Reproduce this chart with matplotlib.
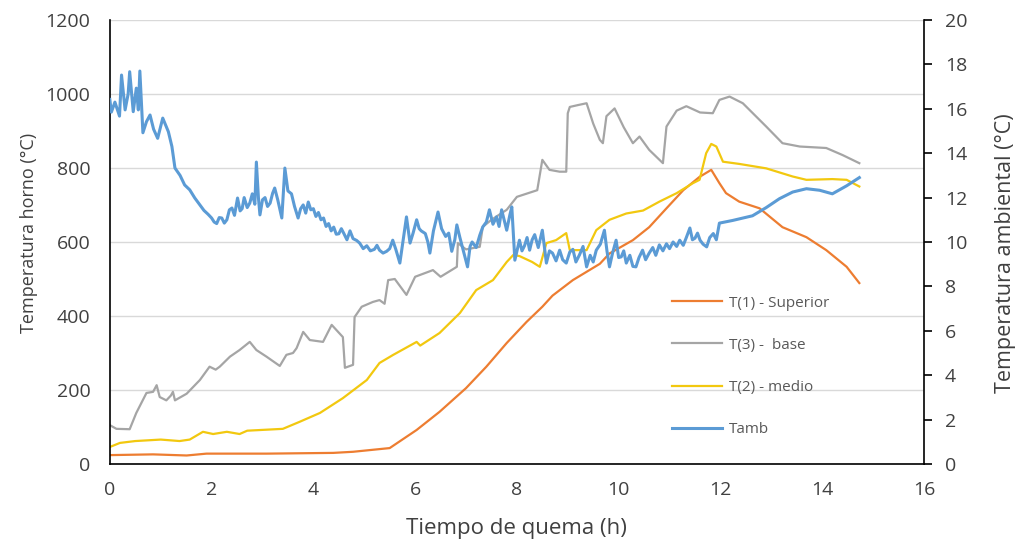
import matplotlib
matplotlib.use("Agg")
import matplotlib.pyplot as plt

plt.rcParams['font.family'] = ['Open Sans', 'DejaVu Sans']

# T(1) - Superior (eje izquierdo)
t1_x = [0.0, 0.85, 1.51, 1.9, 3.08, 4.39, 4.78, 5.5, 6.03, 6.48, 7.0, 7.4, 7.8, 8.19, 8.5, 8.7,
        9.1, 9.63, 9.82, 10.28, 10.6, 10.94, 11.27, 11.59, 11.82, 11.98, 12.11, 12.37, 12.77,
        13.22, 13.69, 14.08, 14.48, 14.73]
t1_y = [24, 26, 23, 28, 28, 30, 33, 43, 92, 141, 205, 263, 327, 384, 425, 455,
        497, 541, 569, 605, 640, 691, 740, 776, 795, 759, 732, 709, 691,
        640, 613, 578, 533, 489]

# T(3) - base
t3_x = [0.0, 0.13, 0.39, 0.52, 0.72, 0.85, 0.92, 0.98, 1.11, 1.2, 1.24, 1.28, 1.51, 1.77, 1.96,
        2.08, 2.16, 2.36, 2.55, 2.75, 2.88, 3.08, 3.34, 3.47, 3.6, 3.67, 3.8, 3.93, 4.19, 4.36,
        4.5, 4.58, 4.62, 4.78, 4.81, 4.95, 5.17, 5.3, 5.4, 5.47, 5.6, 5.83, 6.0, 6.35, 6.5,
        6.75, 6.82, 6.84, 7.0, 7.27, 7.33, 7.5, 7.8, 8.0, 8.4, 8.5, 8.64, 8.84, 8.97, 9.0,
        9.04, 9.2, 9.37, 9.5, 9.63, 9.69, 9.76, 9.92, 10.1, 10.28, 10.41, 10.6, 10.87, 10.94,
        11.14, 11.33, 11.6, 11.85, 11.98, 12.18, 12.44, 12.9, 13.22, 13.56, 14.08, 14.4, 14.73]
t3_y = [105, 95, 94, 138, 192, 195, 213, 181, 172, 185, 195, 172, 190, 227, 263,
        255, 263, 290, 308, 330, 308, 290, 265, 295, 300, 313, 357, 335, 330, 376,
        355, 343, 260, 268, 397, 425, 438, 443, 433, 497, 500, 457, 506, 524, 506,
        527, 533, 597, 580, 587, 641, 660, 687, 722, 740, 822, 795, 790, 790, 948,
        965, 970, 975, 920, 876, 867, 940, 961, 910, 867, 885, 849, 813, 912,
        955, 967, 950, 948, 984, 993, 975, 912, 867, 858, 854, 835, 813]

# T(2) - medio
t2_x = [0.0, 0.2, 0.5, 1.0, 1.37, 1.57, 1.83, 2.03, 2.3, 2.55, 2.7, 3.4, 3.73, 4.13, 4.58,
        5.05, 5.3, 5.57, 6.03, 6.1, 6.48, 6.88, 7.2, 7.53, 7.8, 7.93, 8.05, 8.3, 8.45, 8.58,
        8.77, 8.97, 9.04, 9.37, 9.56, 9.82, 10.15, 10.48, 10.8, 11.14, 11.46, 11.59, 11.72,
        11.82, 11.92, 12.05, 12.37, 12.9, 13.42, 13.69, 14.2, 14.48, 14.73]
t2_y = [46, 57, 62, 66, 62, 66, 87, 81, 87, 81, 90, 95, 114, 138, 178,
        227, 273, 295, 330, 320, 354, 408, 470, 497, 546, 565, 562, 546, 533, 597,
        605, 624, 578, 578, 632, 660, 677, 685, 709, 732, 759, 768, 840,
        865, 858, 817, 811, 799, 777, 768, 770, 768, 750]

# Tamb (eje derecho)
tamb_x = [0.0, 0.03, 0.1, 0.19, 0.23, 0.3, 0.36, 0.39, 0.46, 0.52, 0.56, 0.59, 0.65, 0.72,
          0.79, 0.86, 0.94, 1.04, 1.15, 1.22, 1.28, 1.38, 1.47, 1.57, 1.67, 1.76, 1.85, 1.93,
          2.0, 2.05, 2.1, 2.15, 2.2, 2.25, 2.3, 2.35, 2.4, 2.45, 2.51, 2.56, 2.6, 2.64, 2.7,
          2.75, 2.8, 2.85, 2.88, 2.92, 2.95, 3.0, 3.05, 3.1, 3.15, 3.2, 3.24, 3.3, 3.38, 3.44,
          3.5, 3.57, 3.63, 3.7, 3.75, 3.8, 3.85, 3.9, 3.95, 4.0, 4.05, 4.1, 4.15, 4.2, 4.25,
          4.3, 4.35, 4.4, 4.45, 4.5, 4.55, 4.6, 4.66, 4.72, 4.78, 4.85, 4.91, 4.98, 5.05, 5.12,
          5.2, 5.25, 5.3, 5.37, 5.44, 5.5, 5.56, 5.62, 5.7, 5.76, 5.83, 5.9, 5.96, 6.03, 6.08,
          6.12, 6.2, 6.25, 6.29, 6.36, 6.45, 6.52, 6.6, 6.66, 6.72, 6.78, 6.82, 6.88, 6.94,
          7.03, 7.08, 7.12, 7.2, 7.27, 7.33, 7.4, 7.46, 7.53, 7.6, 7.65, 7.7, 7.75, 7.8, 7.86,
          7.9, 7.96, 8.05, 8.1, 8.15, 8.2, 8.25, 8.3, 8.35, 8.42, 8.5, 8.58, 8.64, 8.7, 8.77,
          8.84, 8.9, 8.97, 9.04, 9.1, 9.16, 9.23, 9.3, 9.37, 9.44, 9.5, 9.56, 9.64, 9.72, 9.77,
          9.82, 9.88, 9.95, 10.0, 10.05, 10.1, 10.15, 10.22, 10.28, 10.34, 10.4, 10.47, 10.53,
          10.6, 10.67, 10.73, 10.8, 10.87, 10.94, 11.0, 11.07, 11.14, 11.2, 11.27, 11.33, 11.4,
          11.45, 11.5, 11.55, 11.6, 11.66, 11.73, 11.79, 11.86, 11.92, 11.98, 12.24, 12.63,
          12.9, 13.16, 13.42, 13.69, 13.95, 14.2, 14.48, 14.73]
tamb_y = [16.42, 15.85, 16.3, 15.67, 17.52, 15.95, 16.67, 17.67, 15.87, 16.93, 15.95, 17.7, 14.92, 15.42,
          15.72, 15.08, 14.67, 15.58, 14.97, 14.3, 13.33, 13.0, 12.57, 12.35, 11.98, 11.7, 11.42, 11.25,
          11.08, 10.9, 10.83, 11.1, 11.08, 10.85, 11.0, 11.45, 11.53, 11.2, 11.98, 11.4, 11.5, 12.0, 11.55,
          11.75, 12.17, 11.7, 13.6, 12.0, 11.22, 11.9, 12.0, 11.6, 11.75, 12.2, 12.43, 11.9, 11.08, 13.33,
          12.3, 12.17, 11.6, 11.08, 11.5, 11.67, 11.3, 11.8, 11.45, 11.5, 11.15, 11.33, 11.0, 11.08, 10.7,
          10.83, 10.5, 10.67, 10.35, 10.37, 10.6, 10.38, 10.1, 10.5, 10.15, 10.07, 9.95, 9.7, 9.83, 9.6,
          9.67, 9.85, 9.63, 9.5, 9.58, 9.7, 10.08, 9.67, 9.05, 10.0, 11.13, 9.95, 10.4, 11.0, 10.6,
          10.5, 10.38, 10.0, 9.5, 10.5, 11.35, 10.6, 10.25, 10.4, 9.58, 10.1, 10.77, 10.2, 9.67,
          8.88, 9.8, 10.0, 9.75, 10.3, 10.68, 10.9, 11.45, 10.8, 11.13, 10.7, 11.45, 11.0, 10.53, 11.2,
          11.58, 9.18, 10.08, 9.6, 9.83, 10.2, 9.63, 10.1, 10.33, 9.75, 10.53, 9.05, 9.6, 9.5, 9.15,
          9.63, 9.2, 9.05, 9.55, 9.67, 9.1, 9.42, 9.8, 8.88, 9.4, 9.1, 9.63, 9.9, 10.53, 9.6,
          8.88, 9.5, 10.08, 9.3, 9.33, 9.6, 9.05, 9.4, 8.9, 8.88, 9.3, 9.63, 9.2,
          9.5, 9.75, 9.4, 9.87, 9.6, 9.92, 9.7, 10.0, 9.8, 10.08, 9.85, 10.2, 10.63,
          10.1, 10.17, 10.4, 10.08, 9.9, 9.78, 10.2, 10.38, 10.1, 10.85, 10.97, 11.18,
          11.55, 11.95, 12.25, 12.4, 12.33, 12.17, 12.53, 12.9]

c_t1 = '#ED7D31'
c_t3 = '#A5A5A5'
c_t2 = '#F2C80F'
c_amb = '#5B9BD5'
txt = '#404040'

fig = plt.figure(figsize=(10.17, 5.43), dpi=100)
ax = fig.add_axes([0.108, 0.1455, 0.8005, 0.8177])
ax2 = ax.twinx()

l1, = ax.plot(t1_x, t1_y, color=c_t1, lw=1.6, label='T(1) - Superior')
l3, = ax.plot(t3_x, t3_y, color=c_t3, lw=1.6, label='T(3) -  base')
l2, = ax.plot(t2_x, t2_y, color=c_t2, lw=1.6, label='T(2) - medio')
l4, = ax2.plot(tamb_x, tamb_y, color=c_amb, lw=2.2, label='Tamb')

ax.set_xlim(0, 16)
ax.set_ylim(0, 1200)
ax2.set_ylim(0, 20)
ax.set_xticks(range(0, 17, 2))
ax.set_yticks(range(0, 1201, 200))
ax2.set_yticks(range(0, 21, 2))

ax.grid(axis='y', color='#D9D9D9', lw=1)
ax.set_axisbelow(True)

for a in (ax, ax2):
    a.spines['top'].set_visible(False)
    for s in a.spines.values():
        s.set_color('black')
        s.set_linewidth(1.2)
ax.spines['right'].set_visible(False)
ax2.spines['left'].set_visible(False)
ax2.spines['bottom'].set_visible(False)

ax.tick_params(axis='y', length=0, labelsize=14, labelcolor=txt, pad=14)
ax.tick_params(axis='x', length=0, labelsize=14, labelcolor=txt, pad=12)
ax2.tick_params(axis='y', length=6, width=1.2, direction='out', labelsize=14,
                labelcolor=txt, pad=9)

ax.set_xlabel('Tiempo de quema (h)', fontsize=16, color=txt)
ax.xaxis.set_label_coords(0.5, -0.122)
ax.xaxis.label.set_va('top')
ax.set_ylabel('Temperatura horno (°C)', fontsize=13, color=txt)
ax.yaxis.set_label_coords(-0.088, 0.52)
ax2.set_ylabel('Temperatura ambiental (°C)', fontsize=15.5, color=txt, labelpad=14)
ax2.yaxis.set_label_coords(1.087, 0.475)
ax2.yaxis.label.set_va('top')

leg = ax2.legend(handles=[l1, l3, l2, l4], loc='upper left', bbox_to_anchor=(0.683, 0.393),
                 frameon=False, fontsize=11, handlelength=3.3, handletextpad=0.4,
                 labelspacing=1.78, labelcolor='#595959', borderaxespad=0)

fig.savefig('out.png', dpi=100)
